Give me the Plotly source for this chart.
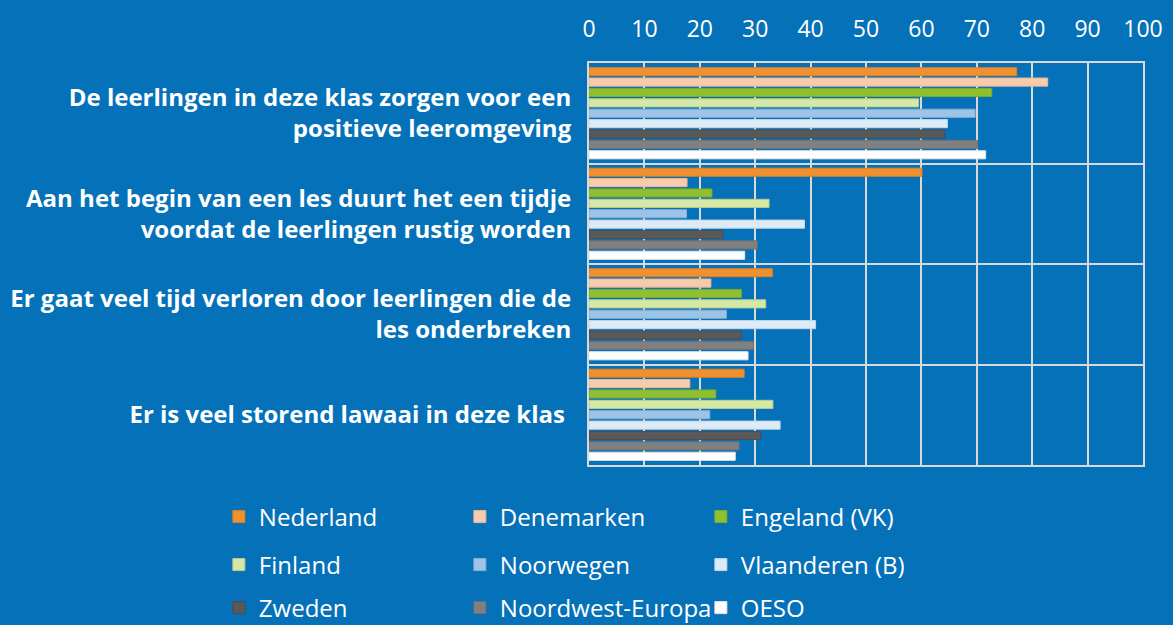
import plotly.graph_objects as go

categories = [
    "De leerlingen in deze klas zorgen voor een<br>positieve leeromgeving",
    "Aan het begin van een les duurt het een tijdje<br>voordat de leerlingen rustig worden",
    "Er gaat veel tijd verloren door leerlingen die de<br>les onderbreken",
    "Er is veel storend lawaai in deze klas\u00a0",
]

countries = ["Nederland", "Denemarken", "Engeland (VK)", "Finland", "Noorwegen",
             "Vlaanderen (B)", "Zweden", "Noordwest-Europa", "OESO"]

nederland = [77.2, 60.1, 33.1, 28.0]
denemarken = [82.8, 17.7, 22.0, 18.2]
engeland = [72.7, 22.2, 27.5, 22.9]
finland = [59.5, 32.5, 31.9, 33.2]
noorwegen = [69.7, 17.6, 24.8, 21.8]
vlaanderen = [64.7, 38.9, 40.9, 34.5]
zweden = [64.2, 24.2, 27.5, 31.0]
noordwest = [70.1, 30.4, 29.7, 27.1]
oeso = [71.6, 28.1, 28.7, 26.4]

series = [nederland, denemarken, engeland, finland, noorwegen,
          vlaanderen, zweden, noordwest, oeso]

colors = ["#F0912F", "#F8CBAD", "#8FC031", "#D5E8A6", "#9DC3E6",
          "#DDEBF7", "#595959", "#808080", "#FFFFFF"]
outlines = ["#D98026", "#E8B898", "#7DAA29", "#B9CC8E", "#8AB0D3",
            "#C3D5E8", "#4D4D4D", "#707070", "#E6E6E6"]

x_ticks = list(range(0, 101, 10))

BG = "#0571B9"
GRID = "#D9D9D9"
FONT = "Open Sans"

fig = go.Figure()
legend_names = ["legend", "legend", "legend", "legend2", "legend2", "legend2",
                "legend3", "legend3", "legend3"]
for name, vals, col, oc, lg in zip(countries, series, colors, outlines, legend_names):
    fig.add_trace(go.Bar(
        y=categories, x=vals, name=name, orientation="h",
        marker=dict(color=col, line=dict(color=oc, width=1)),
        legend=lg,
    ))

leg_common = dict(
    orientation="h", xanchor="left", yanchor="middle", yref="container",
    font=dict(family=FONT, size=24, color="white"),
    bgcolor="rgba(0,0,0,0)", entrywidth=196, entrywidthmode="pixels",
    traceorder="normal", itemclick=False, itemdoubleclick=False,
)
lx = 0.02
fig.update_layout(
    width=1173, height=625,
    template="none",
    paper_bgcolor=BG, plot_bgcolor=BG,
    margin=dict(l=200, r=30, t=63, b=160),
    barmode="group", bargap=0.07, bargroupgap=0.22,
    showlegend=True,
    legend=dict(x=lx, y=(625 - 517) / 625, **leg_common),
    legend2=dict(x=lx, y=(625 - 565) / 625, **leg_common),
    legend3=dict(x=lx, y=(625 - 608) / 625, **leg_common),
    xaxis=dict(
        side="top", range=[0, 100], tickvals=x_ticks,
        domain=[(589 - 200) / 943, 1.0],
        showgrid=True, gridcolor=GRID, gridwidth=2,
        showline=True, linecolor=GRID, linewidth=2, mirror=True,
        zeroline=False, ticks="", ticklabelstandoff=15,
        tickfont=dict(family=FONT, size=23, color="white"),
        automargin=False, fixedrange=True,
    ),
    yaxis=dict(
        autorange="reversed", type="category",
        tickson="boundaries", showgrid=True, gridcolor=GRID, gridwidth=2,
        showline=True, linecolor=GRID, linewidth=2, mirror=True,
        ticks="", ticklabelstandoff=11,
        tickfont=dict(family=FONT, size=24, color="white", weight="bold"),
        automargin=False, fixedrange=True,
    ),
)

fig.write_html("out.html",
               config={"displayModeBar": False},
               post_script="document.body.style.margin='0px';"
                           "document.body.style.background='" + BG + "';")
